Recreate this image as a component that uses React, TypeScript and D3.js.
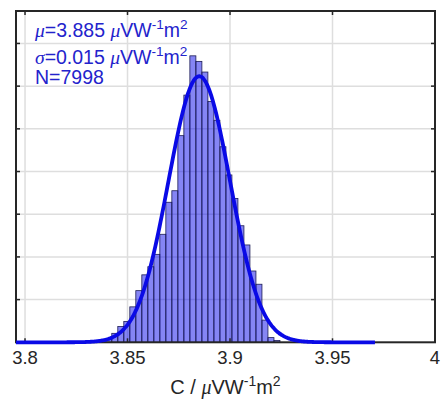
import * as d3 from "d3";

// axis settings
const xTicks = [3.8, 3.85, 3.9, 3.95, 4];
const yTicks = [100, 200, 300, 400, 500, 600, 700];
const xDomain = [3.7956, 4.0];
const yDomain = [0, 776];

// histogram bins (counts)
const binStart = 3.8394;
const binWidth = 0.00293;
const counts = [
  7, 21, 37, 49, 83, 121, 158, 177, 206, 253, 328, 355, 484, 579, 671, 658,
  633, 564, 520, 458, 392, 337, 273, 228, 167, 136, 52, 11, 4,
];

// normal fit
const mu = 3.885;
const sigma = 0.015;
const N = 7998;
const fitRange = [3.7956, 3.9707];

const W = 444;
const H = 403;
const margin = { top: 11, right: 9, bottom: 60.7, left: 16 };

const sans = "'Liberation Sans', Arial, Helvetica, sans-serif";
const serif = "'Liberation Serif', 'Times New Roman', serif";
const txtBlue = "#2323cc";

// "μVW^-1 m^2" unit with raised exponents
function Unit({ fs }: { fs: number }) {
  const s = fs * 0.7;
  const up = fs * 0.42;
  return (
    <>
      <tspan fontFamily={serif} fontStyle="italic">
        μ
      </tspan>
      <tspan>VW</tspan>
      <tspan dy={-up} fontSize={s}>
        -1
      </tspan>
      <tspan dy={up}>m</tspan>
      <tspan dy={-up} fontSize={s}>
        2
      </tspan>
    </>
  );
}

export default function App() {
  const x = d3
    .scaleLinear()
    .domain(xDomain)
    .range([margin.left, W - margin.right]);
  const y = d3
    .scaleLinear()
    .domain(yDomain)
    .range([H - margin.bottom, margin.top]);

  const bins = counts.map((c, i) => ({
    x0: binStart + i * binWidth,
    x1: binStart + (i + 1) * binWidth,
    c,
  }));

  // gaussian scaled to counts per bin
  const scale = N * binWidth;
  const pts = d3
    .range(fitRange[0], fitRange[1], 0.0005)
    .concat([fitRange[1]])
    .map((v) => [
      v,
      (scale / (sigma * Math.sqrt(2 * Math.PI))) *
        Math.exp(-0.5 * ((v - mu) / sigma) ** 2),
    ]);
  const line = d3
    .line<number[]>()
    .x((d) => x(d[0]))
    .y((d) => y(d[1]))
    .curve(d3.curveBasis);

  const x0 = x.range()[0];
  const x1 = x.range()[1];
  const y0 = y.range()[0];
  const y1 = y.range()[1];

  return (
    <svg
      width={W}
      height={H}
      style={{ position: "absolute", left: 0, top: 0, background: "#fff" }}
    >
      {/* grid */}
      <g stroke="#dedede" strokeWidth={1.5}>
        {xTicks
          .filter((t) => t < 4)
          .map((t) => (
            <line key={t} x1={x(t)} x2={x(t)} y1={y0} y2={y1} />
          ))}
        {yTicks.map((t) => (
          <line key={t} x1={x0} x2={x1} y1={y(t)} y2={y(t)} />
        ))}
      </g>

      {/* histogram */}
      <g>
        {bins.map((b, i) => (
          <rect
            key={i}
            x={x(b.x0)}
            y={y(b.c)}
            width={x(b.x1) - x(b.x0)}
            height={y(0) - y(b.c)}
            fill="#0000e8"
            fillOpacity={0.48}
            stroke="#1c1c55"
            strokeWidth={0.8}
          />
        ))}
      </g>

      {/* ticks */}
      <g stroke="#262626" strokeWidth={1.5}>
        {xTicks.map((t) => (
          <g key={t}>
            <line x1={x(t)} x2={x(t)} y1={y0} y2={y0 - 4} />
            <line x1={x(t)} x2={x(t)} y1={y1} y2={y1 + 4} />
          </g>
        ))}
        {yTicks.map((t) => (
          <g key={t}>
            <line x1={x0} x2={x0 + 4} y1={y(t)} y2={y(t)} />
            <line x1={x1} x2={x1 - 4} y1={y(t)} y2={y(t)} />
          </g>
        ))}
      </g>

      {/* frame */}
      <rect
        x={x0}
        y={y1}
        width={x1 - x0}
        height={y0 - y1}
        fill="none"
        stroke="#262626"
        strokeWidth={2}
      />

      {/* fit */}
      <path
        d={line(pts) || ""}
        fill="none"
        stroke="#0a0ae6"
        strokeWidth={3.8}
        strokeLinejoin="round"
      />

      {/* tick labels */}
      <g fontFamily={sans} fontSize={18.5} fill="#262626" textAnchor="middle">
        {xTicks.map((t) => (
          <text key={t} x={x(t)} y={364}>
            {d3.format("")(t)}
          </text>
        ))}
      </g>

      {/* x label */}
      <text
        x={(x0 + x1) / 2}
        y={394}
        fontFamily={sans}
        fontSize={20}
        fill="#262626"
        textAnchor="middle"
      >
        <tspan>C / </tspan>
        <Unit fs={20} />
      </text>

      {/* annotation */}
      <g fontFamily={sans} fontSize={19.5} fill={txtBlue}>
        <text x={35} y={37}>
          <tspan fontFamily={serif} fontStyle="italic">
            μ
          </tspan>
          <tspan>={mu.toFixed(3)} </tspan>
          <Unit fs={19.5} />
        </text>
        <text x={35} y={64}>
          <tspan fontFamily={serif} fontStyle="italic">
            σ
          </tspan>
          <tspan>={sigma.toFixed(3)} </tspan>
          <Unit fs={19.5} />
        </text>
        <text x={35} y={84}>
          N={N}
        </text>
      </g>
    </svg>
  );
}
